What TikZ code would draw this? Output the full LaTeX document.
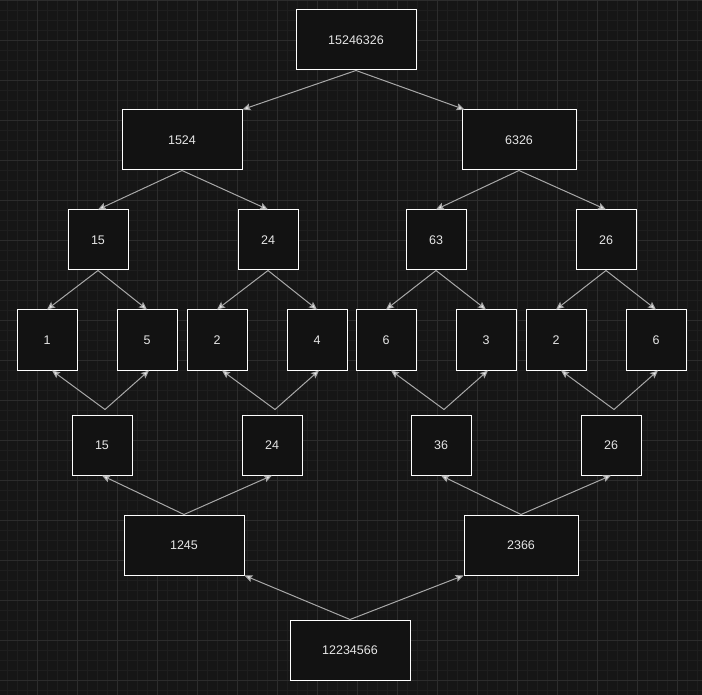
\documentclass[tikz,border=0pt]{standalone}
\usepackage{fontspec}
\setmainfont{Liberation Sans}
\usetikzlibrary{arrows.meta}
\definecolor{bgc}{HTML}{161616}
\definecolor{minorg}{HTML}{1E1E1E}
\definecolor{majorg}{HTML}{2C2C2C}
\definecolor{boxbg}{HTML}{121212}
\definecolor{linec}{HTML}{A8A8A8}
\definecolor{textc}{HTML}{E6E6E6}
\tikzset{
  box/.style={draw=white, line width=1pt, fill=boxbg, text=textc, font=\fontsize{12.5}{14}\selectfont, inner sep=0pt},
  wide/.style={box, minimum width=120pt, minimum height=60pt},
  wide2/.style={box, minimum width=114pt, minimum height=60pt},
  sq/.style={box, minimum width=60pt, minimum height=60pt},
  conn/.style={draw=linec, line width=1pt, -{Stealth[length=8pt,width=7pt,inset=1.5pt,fill=textc]}}
}
\begin{document}
\begin{tikzpicture}[x=1pt,y=-1pt]
\useasboundingbox (0,0) rectangle (702,695);
\fill[bgc] (0,0) rectangle (702,695);
\foreach \i in {0,...,70} {\draw[minorg,line width=0.6pt] (\i*10-3,0) -- (\i*10-3,695);}
\foreach \j in {0,...,69} {\draw[minorg,line width=0.6pt] (0,\j*10) -- (702,\j*10);}
\foreach \i in {0,...,17} {\draw[majorg,line width=0.8pt] (\i*40-3,0) -- (\i*40-3,695);}
\foreach \j in {0,...,17} {\draw[majorg,line width=0.8pt] (0,\j*40) -- (702,\j*40);}

\node[wide] (top) at (356,40) {15246326};
\node[wide] (a) at (182,140) {1524};
\node[wide2] (b) at (519,140) {6326};
\node[sq] (a1) at (98,240) {15};
\node[sq] (a2) at (268,240) {24};
\node[sq] (b1) at (436,240) {63};
\node[sq] (b2) at (606,240) {26};
\node[sq] (l1) at (47,340) {1};
\node[sq] (l2) at (147,340) {5};
\node[sq] (l3) at (217,340) {2};
\node[sq] (l4) at (317,340) {4};
\node[sq] (l5) at (386,340) {6};
\node[sq] (l6) at (486,340) {3};
\node[sq] (l7) at (556,340) {2};
\node[sq] (l8) at (656,340) {6};
\node[sq] (c1) at (102,445) {15};
\node[sq] (c2) at (272,445) {24};
\node[sq] (d1) at (441,445) {36};
\node[sq] (d2) at (611,445) {26};
\node[wide] (c) at (184,545) {1245};
\node[wide2] (d) at (521,545) {2366};
\node[wide] (bot) at (350,650) {12234566};

\coordinate (c1t) at ([shift={(3pt,5pt)}]c1.north);
\coordinate (c2t) at ([shift={(3pt,5pt)}]c2.north);
\coordinate (d1t) at ([shift={(3pt,5pt)}]d1.north);
\coordinate (d2t) at ([shift={(3pt,5pt)}]d2.north);

\draw[conn] (top.south) -- (a.north east);
\draw[conn] (top.south) -- ([xshift=3pt]b.north west);
\draw[conn] (a.south) -- (a1.north);
\draw[conn] (a.south) -- (a2.north);
\draw[conn] (b.south) -- (b1.north);
\draw[conn] (b.south) -- (b2.north);
\draw[conn] (a1.south) -- (l1.north);
\draw[conn] (a1.south) -- (l2.north);
\draw[conn] (a2.south) -- (l3.north);
\draw[conn] (a2.south) -- (l4.north);
\draw[conn] (b1.south) -- (l5.north);
\draw[conn] (b1.south) -- (l6.north);
\draw[conn] (b2.south) -- (l7.north);
\draw[conn] (b2.south) -- (l8.north);
\draw[conn] (c1t) -- ([xshift=5pt]l1.south);
\draw[conn] (c1t) -- ([xshift=2pt]l2.south);
\draw[conn] (c2t) -- ([xshift=5pt]l3.south);
\draw[conn] (c2t) -- ([xshift=2pt]l4.south);
\draw[conn] (d1t) -- ([xshift=5pt]l5.south);
\draw[conn] (d1t) -- ([xshift=2pt]l6.south);
\draw[conn] (d2t) -- ([xshift=5pt]l7.south);
\draw[conn] (d2t) -- ([xshift=2pt]l8.south);
\draw[conn] (c.north) -- (c1.south);
\draw[conn] (c.north) -- (c2.south);
\draw[conn] (d.north) -- (d1.south);
\draw[conn] (d.north) -- (d2.south);
\draw[conn] (bot.north) -- (c.south east);
\draw[conn] (bot.north) -- (d.south west);
\end{tikzpicture}
\end{document}
